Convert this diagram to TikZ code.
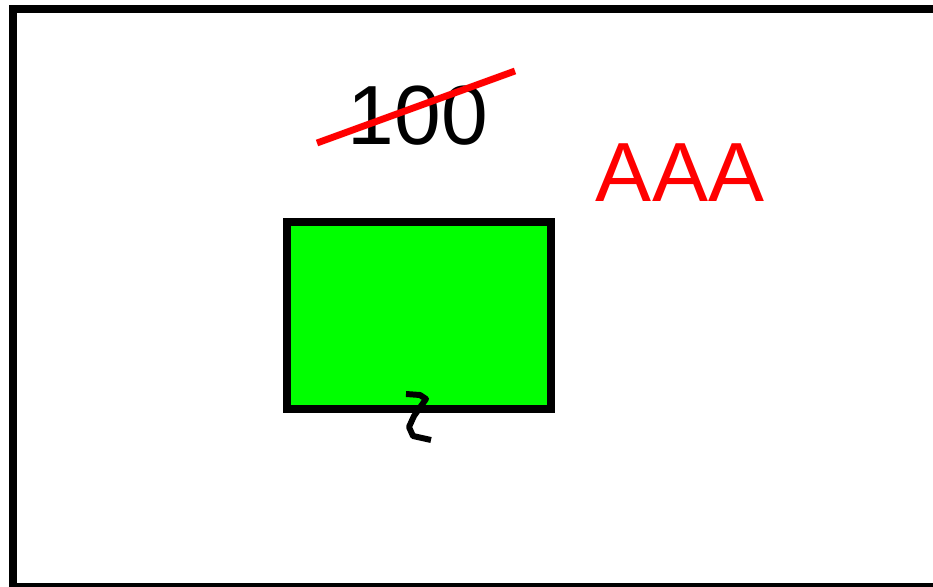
\documentclass[tikz,border=0pt]{standalone}
\usepackage{fontspec}
\setsansfont{Liberation Sans}
\usetikzlibrary{positioning,calc}
\definecolor{cbox}{RGB}{0,255,0}
\definecolor{cmark}{RGB}{255,0,0}

\begin{document}
\begin{tikzpicture}[x=0.02cm,y=-0.02cm,font=\sffamily\fontsize{47.8pt}{50pt}\selectfont,
  bigtext/.style={inner sep=0pt,anchor=base},
  frameline/.style={line width=4.55pt,draw=black}]
\useasboundingbox (0,0) rectangle (933,587);
\clip (0,0) rectangle (933,587);
% ===================== frame =====================
\draw[frameline] (13,9) rectangle (950,587);
% ===================== crossed number =====================
\node[bigtext] (num) at (418,145) {100};
\coordinate (strikeA) at (317,143);
\coordinate (strikeB) at (515,71);
\draw[cmark,line width=3.9pt] (strikeA) -- (strikeB);
% ===================== label =====================
\node[bigtext,text=cmark] (lbl) at (680,202) {AAA};
% ===================== box =====================
\draw[frameline,fill=cbox] (286.5,222) rectangle (550.5,409);
% squiggle across the bottom edge
\draw[line width=3.4pt,line join=round] (406,394) -- (420,395) -- (426,399)
  -- (414,416) -- (409,427) -- (413,436) -- (431,440);
\end{tikzpicture}
\end{document}
